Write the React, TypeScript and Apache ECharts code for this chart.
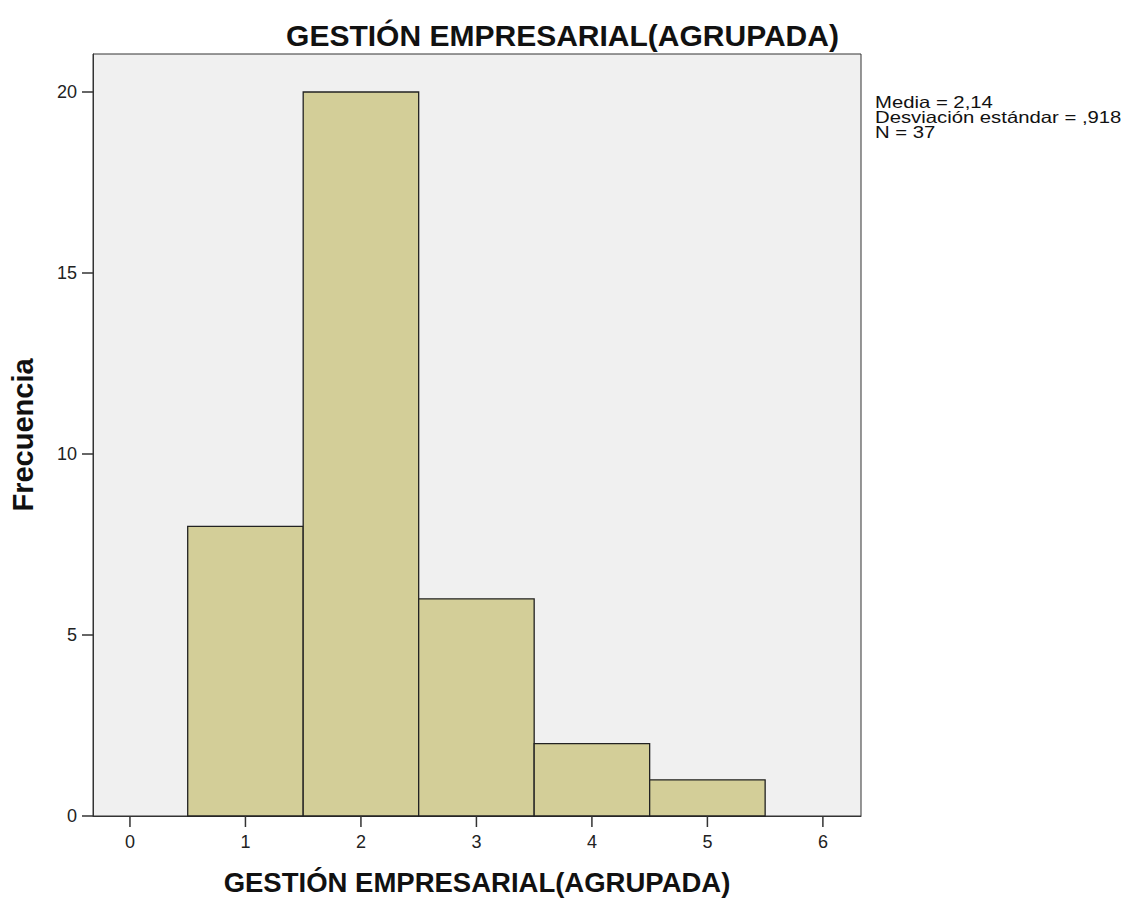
import React, { useEffect, useRef } from "react";
import * as echarts from "echarts";

const titleText = "GESTIÓN EMPRESARIAL(AGRUPADA)";
const xAxisName = "GESTIÓN EMPRESARIAL(AGRUPADA)";
const yAxisName = "Frecuencia";
const binStarts = [0.5, 1.5, 2.5, 3.5, 4.5];
const binEnds = [1.5, 2.5, 3.5, 4.5, 5.5];
const frequencies = [8, 20, 6, 2, 1];
const xTicks = [0, 1, 2, 3, 4, 5, 6];
const yTicks = [0, 5, 10, 15, 20];
const statsLines = ["Media = 2,14", "Desviación estándar = ,918", "N = 37"];

const FONT = "'Liberation Sans', Arial, sans-serif";

export default function App() {
  const ref = useRef<HTMLDivElement>(null);
  useEffect(() => {
    if (!ref.current) return;
    const chart = echarts.init(ref.current, null, { renderer: "svg" });
    const data = frequencies.map((f, i) => [binStarts[i], binEnds[i], f]);
    const tickData = xTicks.map((v) => [v, 0]);
    chart.setOption({
      animation: false,
      backgroundColor: "#ffffff",
      textStyle: { fontFamily: FONT },
      title: {
        text: titleText,
        left: "center",
        top: 15,
        textStyle: { fontFamily: FONT, fontSize: 30, fontWeight: "bold", color: "#111" },
      },
      grid: {
        left: 93,
        top: 54,
        width: 768,
        height: 762,
        containLabel: false,
        outerBoundsMode: "none",
        show: true,
        backgroundColor: "#F0F0F0",
        borderColor: "#333",
        borderWidth: 1,
      },
      xAxis: {
        type: "value",
        min: -0.32,
        max: 6.33,
        name: xAxisName,
        nameLocation: "middle",
        nameGap: 52,
        nameTextStyle: { fontFamily: FONT, fontSize: 27.5, fontWeight: "bold", color: "#111" },
        axisLine: { show: true, onZero: false, lineStyle: { color: "#333", width: 1 } },
        axisTick: { show: false },
        axisLabel: { customValues: xTicks, margin: 17, fontSize: 18, color: "#222", fontFamily: FONT },
        splitLine: { show: false },
      },
      yAxis: {
        type: "value",
        min: 0,
        max: 21.05,
        name: yAxisName,
        nameLocation: "middle",
        nameGap: 56,
        nameTextStyle: { fontFamily: FONT, fontSize: 29, fontWeight: "bold", color: "#111" },
        axisLine: { show: true, onZero: false, lineStyle: { color: "#333", width: 1 } },
        axisTick: { show: true, inside: false, length: 11, customValues: yTicks, lineStyle: { color: "#333", width: 1.5 } },
        axisLabel: { customValues: yTicks, margin: 16, fontSize: 18, color: "#222", fontFamily: FONT },
        splitLine: { show: false },
      },
      series: [
        {
          type: "custom",
          data,
          renderItem: (params: any, api: any) => {
            const p0 = api.coord([api.value(0), api.value(2)]);
            const p1 = api.coord([api.value(1), 0]);
            return {
              type: "rect",
              shape: { x: p0[0], y: p0[1], width: p1[0] - p0[0], height: p1[1] - p0[1] },
              style: { fill: "#D3CE98", stroke: "#222", lineWidth: 1.3 },
            };
          },
        },
        {
          type: "custom",
          data: tickData,
          clip: false,
          silent: true,
          renderItem: (params: any, api: any) => {
            const p = api.coord([api.value(0), api.value(1)]);
            return {
              type: "line",
              shape: { x1: p[0], y1: p[1], x2: p[0], y2: p[1] + 11 },
              style: { stroke: "#333", lineWidth: 1.5 },
            };
          },
        },
      ],
      graphic: [
        {
          type: "text",
          x: 875,
          y: 95,
          scaleX: 1.23,
          style: {
            text: statsLines.join("\n"),
            font: `16.5px ${FONT}`,
            lineHeight: 15,
            fill: "#111",
            verticalAlign: "top",
            align: "left",
          },
        },
      ],
    });
    return () => chart.dispose();
  }, []);
  return (
    <div
      ref={ref}
      style={{ position: "absolute", left: 0, top: 0, width: 1125, height: 899 }}
    />
  );
}
